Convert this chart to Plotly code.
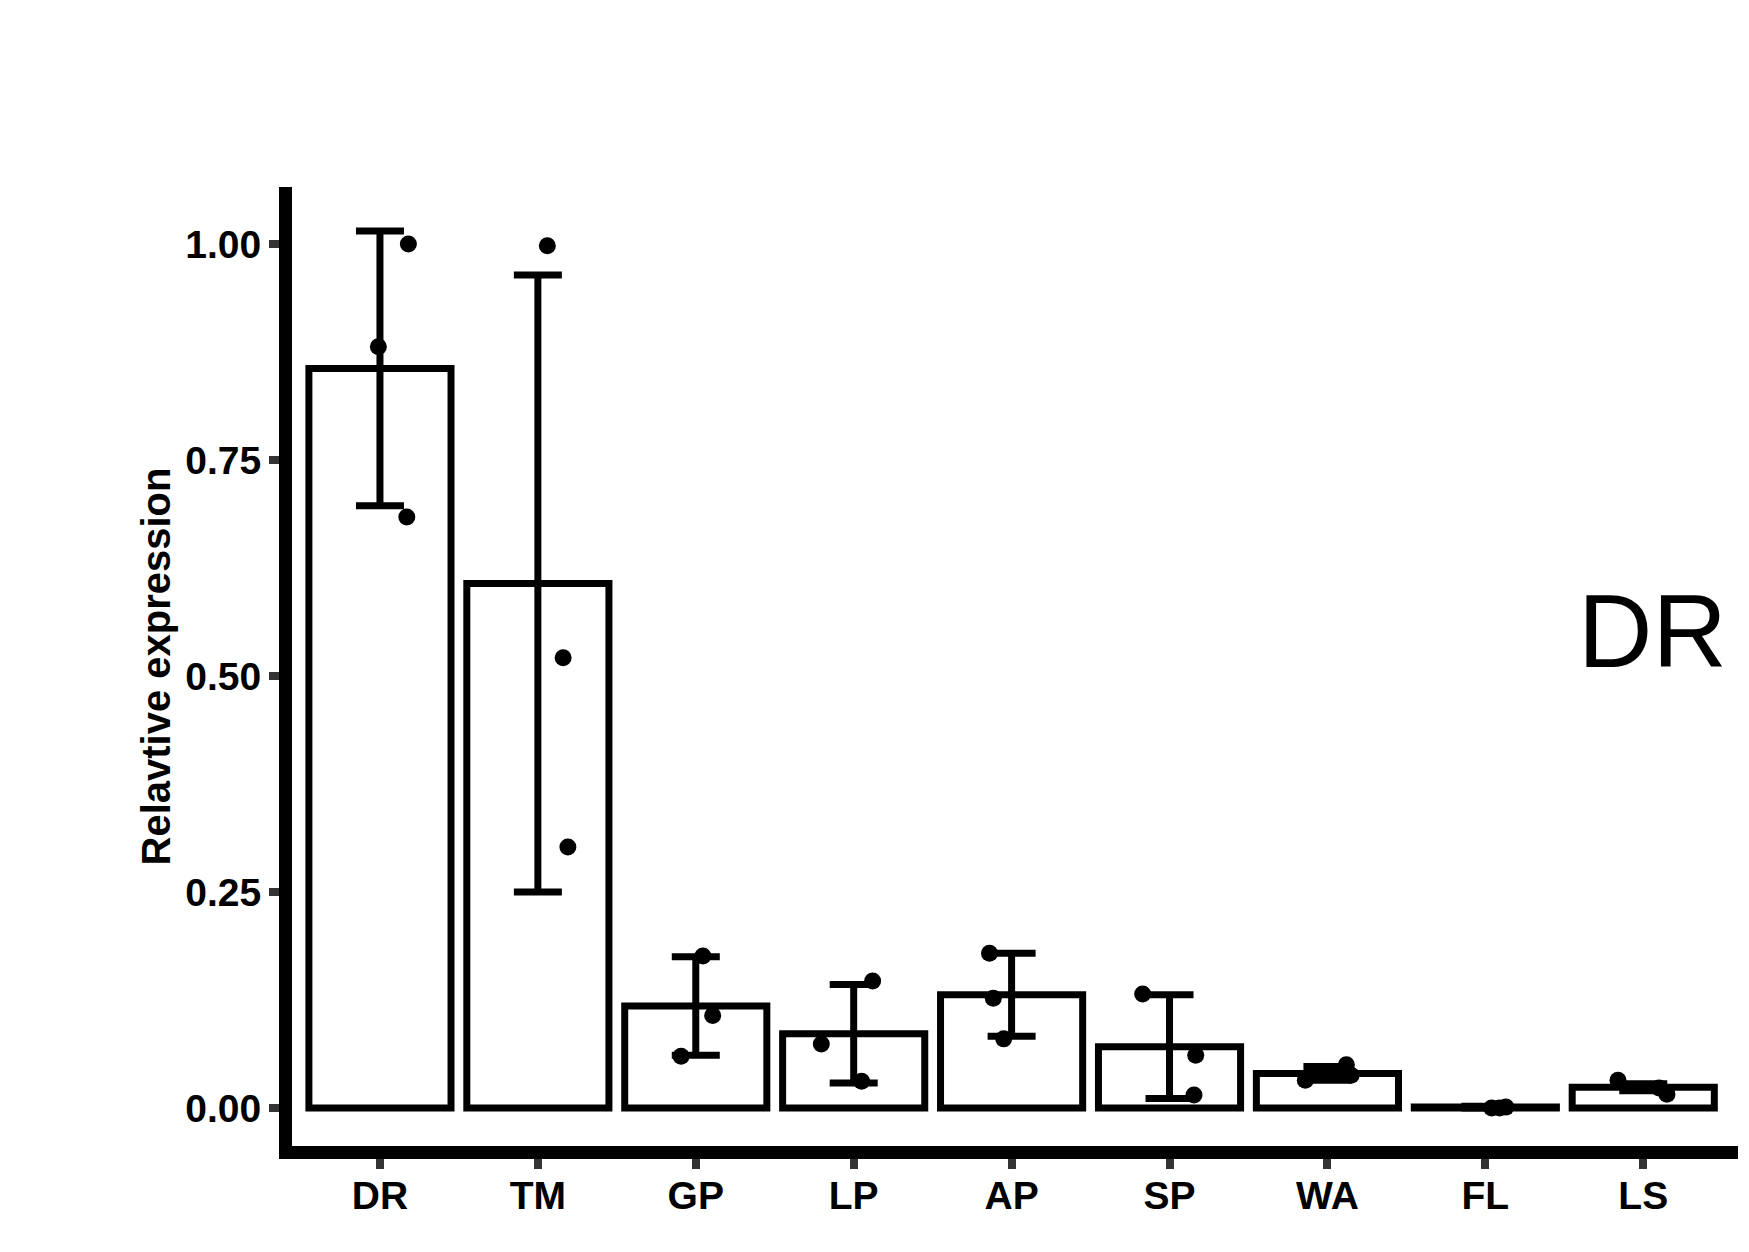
import plotly.graph_objects as go

# ---- data ----
categories = ["DR", "TM", "GP", "LP", "AP", "SP", "WA", "FL", "LS"]
mean_expr = [0.856, 0.607, 0.118, 0.086, 0.131, 0.071, 0.040, 0.001, 0.024]
sd_expr = [0.159, 0.357, 0.057, 0.057, 0.048, 0.060, 0.008, 0.001, 0.004]

rep1 = [1.000, 0.998, 0.176, 0.147, 0.179, 0.132, 0.032, 0.000, 0.032]
rep2 = [0.881, 0.521, 0.107, 0.074, 0.127, 0.061, 0.050, 0.001, 0.016]
rep3 = [0.684, 0.302, 0.060, 0.031, 0.080, 0.015, 0.038, 0.000, 0.023]

jit1 = [0.18, 0.06, 0.045, 0.12, -0.14, -0.17, -0.14, 0.04, -0.16]
jit2 = [-0.01, 0.16, 0.107, -0.205, -0.116, 0.166, 0.12, 0.13, 0.15]
jit3 = [0.17, 0.19, -0.093, 0.05, -0.05, 0.155, 0.15, 0.09, 0.10]

y_tickvals = [0, 0.25, 0.5, 0.75, 1.0]
y_ticktext = ["0.00", "0.25", "0.50", "0.75", "1.00"]

FONT = "Liberation Sans, Arial, Helvetica, sans-serif"

xpos = list(range(len(categories)))

fig = go.Figure()

fig.add_trace(go.Bar(
    x=xpos, y=mean_expr, width=0.9,
    marker=dict(color="white", line=dict(color="black", width=7)),
    error_y=dict(type="data", array=sd_expr, visible=True,
                 color="black", thickness=7, width=24),
    showlegend=False,
))

pts_x, pts_y = [], []
for reps, jits in ((rep1, jit1), (rep2, jit2), (rep3, jit3)):
    for i, (v, j) in enumerate(zip(reps, jits)):
        pts_x.append(xpos[i] + j)
        pts_y.append(v)

fig.add_trace(go.Scatter(
    x=pts_x, y=pts_y, mode="markers",
    marker=dict(color="black", size=17, line=dict(width=0)),
    showlegend=False,
))

fig.add_annotation(
    text="DR", xref="paper", yref="paper", x=0.994, y=0.536,
    xanchor="right", yanchor="middle", showarrow=False,
    font=dict(family=FONT, size=103, color="black"),
)

fig.update_layout(
    width=1749, height=1252,
    margin=dict(l=284, r=19, t=179, b=114),
    paper_bgcolor="white", plot_bgcolor="white",
    bargap=0.1,
    xaxis=dict(
        range=[-0.557, 8.6], tickvals=xpos, ticktext=categories,
        showgrid=False, zeroline=False,
        showline=True, linecolor="black", linewidth=13,
        ticks="outside", ticklen=10, tickwidth=8, tickcolor="#333333",
        ticklabelstandoff=-7,
        tickfont=dict(family=FONT, size=39, color="black", weight="bold"),
    ),
    yaxis=dict(
        range=[-0.044, 1.066], tickvals=y_tickvals, ticktext=y_ticktext,
        showgrid=False, zeroline=False,
        showline=True, linecolor="black", linewidth=13,
        ticks="outside", ticklen=10, tickwidth=8, tickcolor="#333333",
        tickfont=dict(family=FONT, size=39, color="black", weight="bold"),
        title=dict(text="Relavtive expression", standoff=8,
                   font=dict(family=FONT, size=40, color="black", weight="bold")),
    ),
)

fig.write_html("out.html")
